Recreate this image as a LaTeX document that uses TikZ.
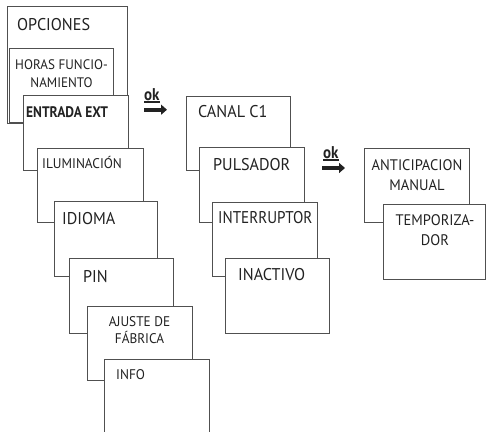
\documentclass[tikz,border=0pt]{standalone}
\usepackage{fontspec}
\setmainfont{PT Sans}[FakeStretch=0.95, BoldFeatures={FakeStretch=0.88}]
\newfontfamily\narrowsans{PT Sans}[FakeStretch=0.89]
\usetikzlibrary{arrows.meta}
\definecolor{linegray}{HTML}{505050}
\definecolor{txt}{HTML}{222222}
\newcommand{\fsL}{\fontsize{17}{20}\selectfont}
\newcommand{\fsM}{\fontsize{15.3}{20.5}\selectfont}
\newcommand{\fsS}{\fontsize{14}{17.5}\selectfont}
\newcommand{\fsXS}{\fontsize{13.8}{17.5}\selectfont}
\tikzset{
  panel/.style={draw=linegray, line width=1.3pt, fill=white, inner sep=0pt,
    anchor=north west, rectangle},
  lbl/.style={inner sep=0pt, text=txt, anchor=base west},
  lblc/.style={inner sep=0pt, text=txt, anchor=base, align=center},
  oktext/.style={inner sep=0pt, text=txt, anchor=base west,
    font=\fontsize{17}{17}\selectfont\bfseries},
  okline/.style={draw=txt, line width=1.8pt},
  okarrow/.style={draw=txt, line width=4pt, -{Triangle[length=6pt,width=10pt]}}
}
\begin{document}
\begin{tikzpicture}[x=1pt, y=-1pt]
\useasboundingbox (0,0) rectangle (486,431);

% left column: options menu
\node[panel, minimum width=120pt, minimum height=117pt] (opc) at (7,6) {};
\node[lbl, font=\fsL] (topc) at (17,30) {OPCIONES};
\node[panel, minimum width=104pt, minimum height=74pt] (hor) at (9,48) {};
\node[lblc, font=\fsXS] (thor) at (61.5,69) {HORAS FUNCIO-};
\node[lblc, font=\fsXS] (thor2) at (61.5,87) {NAMIENTO};
\node[panel, minimum width=105pt, minimum height=75pt] (ent) at (23,95) {};
\node[lbl, font=\fontsize{15.3}{20}\selectfont\bfseries] (tent) at (26,117) {ENTRADA EXT};
\node[panel, minimum width=106pt, minimum height=74pt] (ilu) at (37,148) {};
\node[lbl, font=\fsS] (tilu) at (42,168) {ILUMINACIÓN};
\node[panel, minimum width=103pt, minimum height=75pt] (idi) at (54,201) {};
\node[lbl, font=\fsL] (tidi) at (62,224) {IDIOMA};
\node[panel, minimum width=104pt, minimum height=75pt] (pin) at (69,258) {};
\node[lbl, font=\fsL] (tpin) at (83,282) {PIN};
\node[panel, minimum width=105pt, minimum height=74pt] (aju) at (87,306) {};
\node[lblc, font=\fsS] (taju) at (139.5,326) {AJUSTE DE};
\node[lblc, font=\fsS] (taju2) at (139.5,343) {FÁBRICA};
\node[panel, minimum width=105pt, minimum height=74pt] (inf) at (104,359) {};
\node[lbl, font=\fsS] (tinf) at (116,379) {INFO};

% middle column: input channel
\node[panel, minimum width=104pt, minimum height=74pt] (can) at (186,96) {};
\node[lbl, font=\fsL] (tcan) at (198,117) {CANAL C1};
\node[panel, minimum width=105pt, minimum height=75pt] (pul) at (199,147) {};
\node[lbl, font=\fsL] (tpul) at (213,170) {PULSADOR};
\node[panel, minimum width=105pt, minimum height=74pt] (itr) at (212,202) {};
\node[lbl, font=\narrowsans\fsL] (titr) at (218,223) {INTERRUPTOR};
\node[panel, minimum width=104pt, minimum height=75pt] (ina) at (225,258) {};
\node[lbl, font=\fsL] (tina) at (238,280) {INACTIVO};

% right column: push-button function
\node[panel, minimum width=105pt, minimum height=74pt] (ant) at (364,148) {};
\node[lblc, font=\fsM] (tant) at (417,170) {ANTICIPACION};
\node[lblc, font=\fsM] (tant2) at (417,190) {MANUAL};
\node[panel, minimum width=102pt, minimum height=75pt] (tem) at (383,204) {};
\node[lblc, font=\fsM] (ttem) at (435,225) {TEMPORIZA-};
\node[lblc, font=\fsM] (ttem2) at (435,245) {DOR};

% "ok" arrows
\node[oktext] (ok1) at (144,100) {ok};
\draw[okline] ([yshift=-1.8pt]ok1.base west) -- ([yshift=-1.8pt]ok1.base east);
\coordinate (a1s) at (144,109.7);
\coordinate (a1e) at (167,109.7);
\draw[okarrow] (a1s) -- (a1e);

\node[oktext] (ok2) at (323,158.5) {ok};
\draw[okline] ([yshift=-1.8pt]ok2.base west) -- ([yshift=-1.8pt]ok2.base east);
\coordinate (a2s) at (322,168);
\coordinate (a2e) at (345,168);
\draw[okarrow] (a2s) -- (a2e);
\end{tikzpicture}
\end{document}
